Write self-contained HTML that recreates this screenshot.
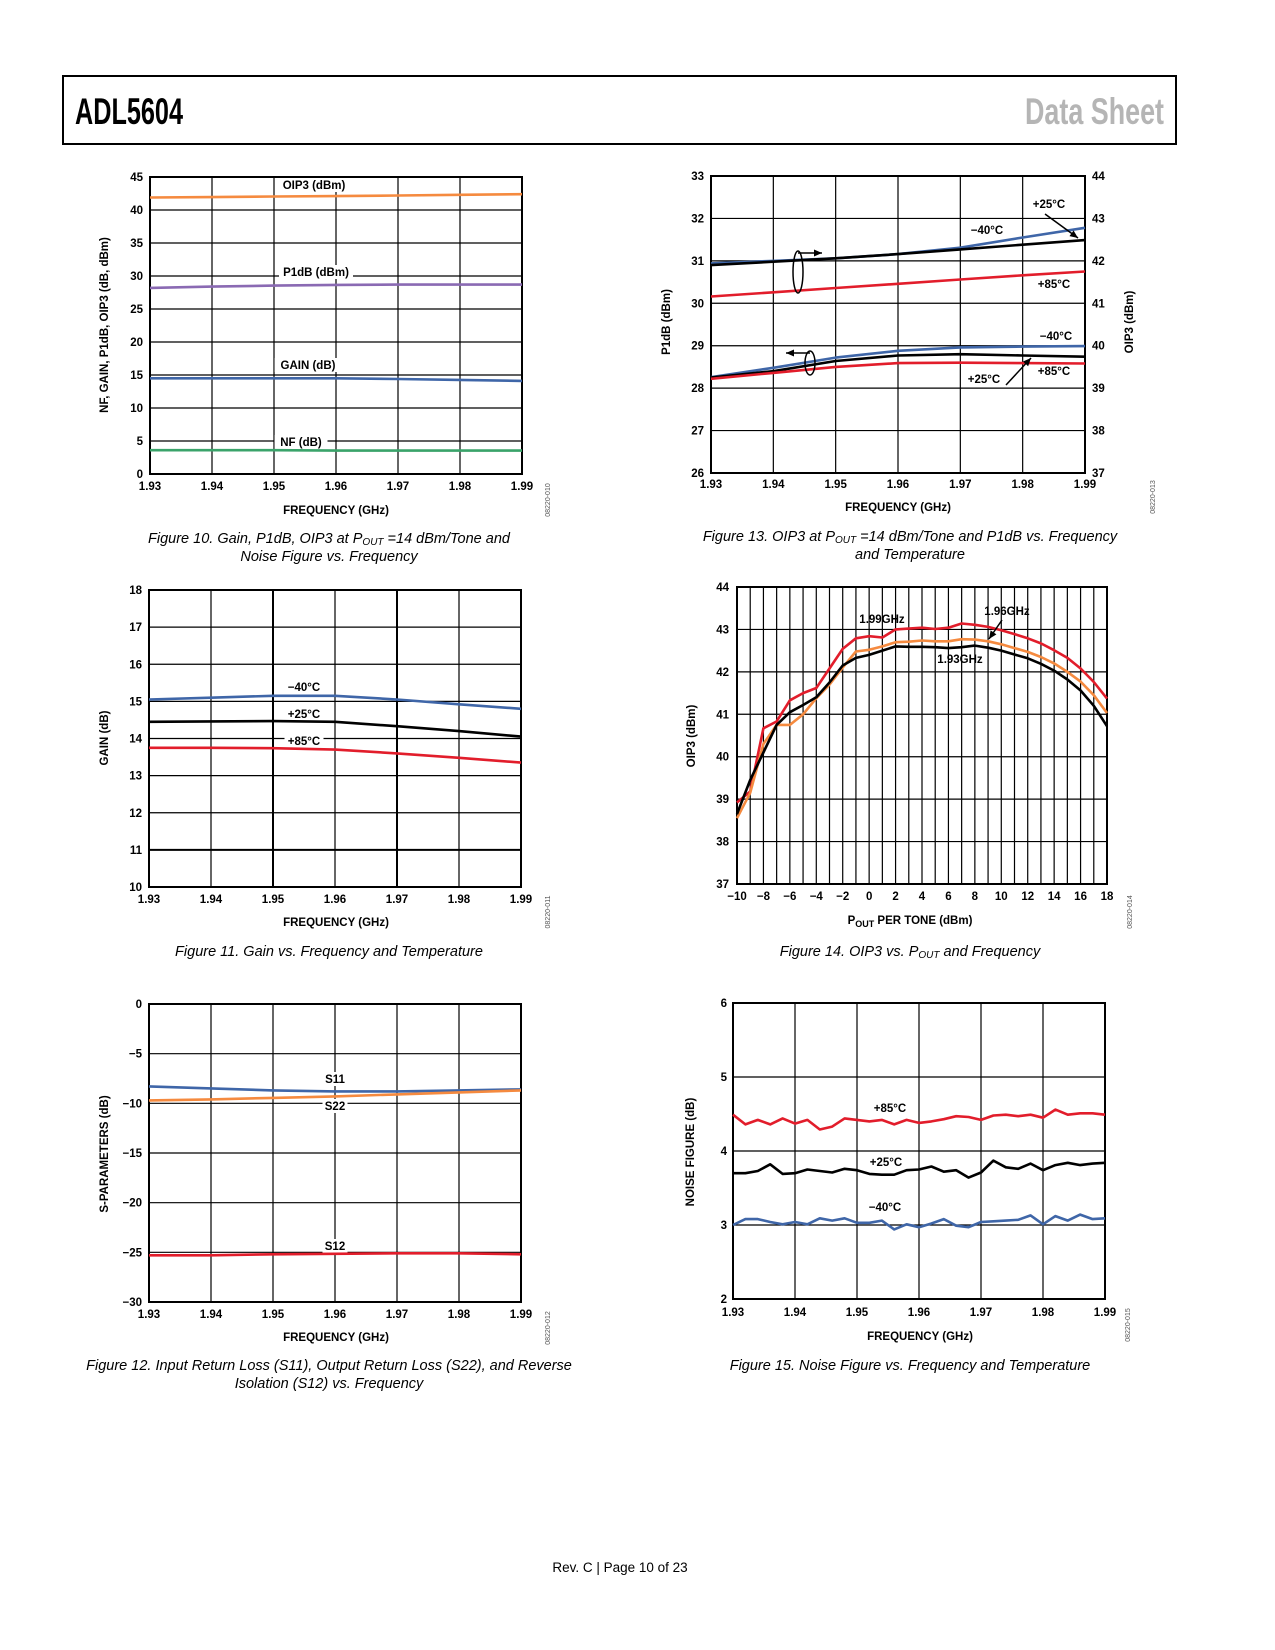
<!DOCTYPE html>
<html><head><meta charset="utf-8"><style>
html,body{margin:0;padding:0;background:#fff;}
body{width:1275px;height:1650px;position:relative;overflow:hidden;font-family:"Liberation Sans",sans-serif;}
svg{position:absolute;left:0;top:0;}
</style></head><body>
<svg id="pg" width="1275" height="1650" viewBox="0 0 1275 1650">
<rect x="63" y="76" width="1113" height="68" fill="none" stroke="#000" stroke-width="2"/>
<text x="75" y="124" textLength="108" lengthAdjust="spacingAndGlyphs" font-family="Liberation Sans, sans-serif" font-weight="bold" font-size="37" fill="#000">ADL5604</text>
<text x="1025" y="124" textLength="139" lengthAdjust="spacingAndGlyphs" font-family="Liberation Sans, sans-serif" font-weight="bold" font-size="37" fill="#b5b5b5">Data Sheet</text>
<text x="620" y="1572" text-anchor="middle" font-family="Liberation Sans, sans-serif" font-size="13.5" fill="#000">Rev. C | Page 10 of 23</text>
</svg>
<script>
// ---------- data ----------
const freq7 = [1.93,1.94,1.95,1.96,1.97,1.98,1.99];
const f10Oip3 = [41.9,41.95,42.05,42.1,42.2,42.3,42.4];
const f10P1db = [28.2,28.4,28.55,28.65,28.7,28.7,28.7];
const f10Gain = [14.5,14.5,14.5,14.5,14.4,14.25,14.1];
const f10Nf = [3.6,3.6,3.6,3.55,3.55,3.55,3.55];
const f11GainM40 = [15.05,15.1,15.15,15.15,15.05,14.92,14.8];
const f11Gain25 = [14.45,14.46,14.47,14.45,14.33,14.2,14.05];
const f11Gain85 = [13.75,13.75,13.74,13.7,13.6,13.48,13.35];
const f12S11 = [-8.3,-8.5,-8.7,-8.8,-8.8,-8.7,-8.6];
const f12S22 = [-9.7,-9.6,-9.45,-9.3,-9.1,-8.9,-8.7];
const f12S12 = [-25.3,-25.3,-25.2,-25.15,-25.1,-25.1,-25.2];
const f13OipM40 = [41.94,42.0,42.06,42.16,42.31,42.55,42.78];
const f13Oip25 = [41.9,41.98,42.06,42.16,42.27,42.38,42.49];
const f13Oip85 = [41.16,41.26,41.36,41.46,41.56,41.66,41.75];
const f13P1M40 = [28.26,28.48,28.72,28.88,28.96,28.98,28.99];
const f13P125 = [28.25,28.4,28.64,28.77,28.8,28.77,28.74];
const f13P185 = [28.22,28.36,28.5,28.59,28.6,28.59,28.58];
const pout = [-10,-9,-8,-7,-6,-5,-4,-3,-2,-1,0,1,2,3,4,5,6,7,8,9,10,11,12,13,14,15,16,17,18];
const f14G199 = [38.92,39.18,40.67,40.83,41.33,41.5,41.62,42.08,42.54,42.79,42.84,42.81,43.0,43.02,43.04,43.01,43.04,43.14,43.11,43.06,42.98,42.89,42.79,42.67,42.51,42.33,42.08,41.76,41.37];
const f14G196 = [38.55,39.15,40.3,40.75,40.75,41.0,41.38,41.7,42.1,42.48,42.52,42.6,42.7,42.71,42.74,42.72,42.72,42.77,42.76,42.72,42.65,42.56,42.47,42.35,42.2,42.0,41.77,41.45,41.03];
const f14G193 = [38.65,39.45,40.1,40.75,41.05,41.22,41.4,41.75,42.15,42.33,42.4,42.5,42.6,42.59,42.59,42.58,42.56,42.58,42.62,42.57,42.5,42.41,42.32,42.19,42.03,41.82,41.56,41.2,40.72];
const freq31 = [1.930,1.932,1.934,1.936,1.938,1.940,1.942,1.944,1.946,1.948,1.950,1.952,1.954,1.956,1.958,1.960,1.962,1.964,1.966,1.968,1.970,1.972,1.974,1.976,1.978,1.980,1.982,1.984,1.986,1.988,1.990];
const f15Nf85 = [4.49,4.36,4.42,4.36,4.44,4.37,4.42,4.29,4.33,4.44,4.42,4.40,4.42,4.36,4.42,4.38,4.40,4.43,4.47,4.46,4.42,4.48,4.49,4.47,4.49,4.45,4.56,4.49,4.51,4.51,4.49];
const f15Nf25 = [3.70,3.70,3.73,3.82,3.69,3.70,3.75,3.73,3.71,3.76,3.74,3.69,3.68,3.68,3.74,3.75,3.79,3.72,3.74,3.64,3.71,3.87,3.78,3.76,3.83,3.74,3.81,3.84,3.81,3.83,3.84];
const f15NfM40 = [3.00,3.08,3.08,3.04,3.01,3.04,3.01,3.09,3.06,3.09,3.03,3.03,3.06,2.94,3.01,2.97,3.02,3.08,2.99,2.97,3.04,3.05,3.06,3.07,3.13,3.01,3.12,3.06,3.14,3.08,3.09];
const freqTicks = ['1.93','1.94','1.95','1.96','1.97','1.98','1.99'];
const poutTicks = ['−10','−8','−6','−4','−2','0','2','4','6','8','10','12','14','16','18'];

// ---------- helpers ----------
const NS='http://www.w3.org/2000/svg';
const pg=document.getElementById('pg');
const BLUE='#3f66a8',RED='#e21d2b',ORANGE='#f58a3f',PURPLE='#8a6ab3',GREEN='#3aa36a',BLACK='#000';
function mk(tag,attrs,parent){const e=document.createElementNS(NS,tag);for(const k in attrs)e.setAttribute(k,attrs[k]);(parent||pg).appendChild(e);return e;}
function txt(x,y,s,size,parent,extra){const t=mk('text',Object.assign({x:x,y:y,'font-size':size,'font-weight':'bold','font-family':'Liberation Sans, sans-serif',fill:'#000'},extra||{}),parent);t.textContent=s;return t;}
function axes(L,R,T,B,xmin,xmax,ymin,ymax){return {x:v=>L+(v-xmin)/(xmax-xmin)*(R-L),y:v=>B-(v-ymin)/(ymax-ymin)*(B-T)};}
function frame(g,L,R,T,B,xvals,yvals,ax,thick){
  xvals.forEach(v=>{const l=mk('line',{x1:ax.x(v),x2:ax.x(v),y1:T,y2:B,stroke:'#000','stroke-width':(thick&&thick.x&&thick.x.includes(v))?2:1.2},g);
    
    });
  yvals.forEach(v=>{const l=mk('line',{x1:L,x2:R,y1:ax.y(v),y2:ax.y(v),stroke:'#000','stroke-width':(thick&&thick.y&&thick.y.includes(v))?2:1.2},g);
    
    });
  const r=mk('rect',{x:L,y:T,width:R-L,height:B-T,fill:'none',stroke:'#000','stroke-width':2},g);
  
  
}
function series(g,xs,ys,ax,color,name,w){
  const d=xs.map((x,i)=>(i?'L':'M')+ax.x(x).toFixed(1)+' '+ax.y(ys[i]).toFixed(1)).join(' ');
  const p=mk('path',{d:d,fill:'none',stroke:color,'stroke-width':w||2.6,'stroke-linejoin':'round'},g);
  
  
}
function label(g,x,y,s,name,bg){
  if(bg){const w=s.length*7+4;const r=mk('rect',{x:x-w/2,y:y-11,width:w,height:14,fill:'#fff'},g);
    
    }
  const t=txt(x,y,s,11.5,g,{'text-anchor':'middle'});
  
  
}
function xTicks(g,labels,vals,ax,y){labels.forEach((s,i)=>{const t=txt(ax.x(vals[i]),y,s,11.5,g,{'text-anchor':'middle'});
  
  });}
function yTicks(g,vals,ax,x,anchor){vals.forEach(v=>{const t=txt(x,ax.y(v)+4,String(v).replace('-','−'),11.5,g,{'text-anchor':anchor||'end'});
  
  });}
function title(g,x,y,s,rot,name){const t=txt(x,y,s,11.5,g,{'text-anchor':'middle'});if(rot)t.setAttribute('transform','rotate(-90 '+x+' '+y+')');
  
  return t;}
function caption(g,x,y,lines,name){lines.forEach((s,i)=>{const t=mk('text',{x:x,y:y+i*18,'text-anchor':'middle','font-size':14.5,'font-style':'italic','font-family':'Liberation Sans, sans-serif',fill:'#000'},g);t.innerHTML=s;
  
  });}
function code(g,x,y,s){const t=mk('text',{x:x,y:y,'text-anchor':'middle','font-size':7,'font-family':'Liberation Sans, sans-serif',fill:'#555',transform:'rotate(-90 '+x+' '+y+')'},g);t.textContent=s;
  
  }
function arrow(g,x1,y1,x2,y2,name){mk('line',{x1:x1,y1:y1,x2:x2,y2:y2,stroke:'#000','stroke-width':1.5},g);
  const a=Math.atan2(y2-y1,x2-x1),s=8;
  const p=mk('polygon',{points:`${x2},${y2} ${x2-s*Math.cos(a)+3.5*Math.sin(a)},${y2-s*Math.sin(a)-3.5*Math.cos(a)} ${x2-s*Math.cos(a)-3.5*Math.sin(a)},${y2-s*Math.sin(a)+3.5*Math.cos(a)}`,fill:'#000'},g);
  
  }
function grp(name){const g=mk('g',{});return g;}
const fVals=freqTicks.map(Number);

// ---------- Figure 10 ----------
(function(){const g=grp('figure-10-chart');const L=150,R=522,T=177,B=474;const ax=axes(L,R,T,B,1.93,1.99,0,45);
 frame(g,L,R,T,B,fVals,[0,5,10,15,20,25,30,35,40,45],ax);
 label(g,314,189,'OIP3 (dBm)','oip3-label',true);label(g,316,276,'P1dB (dBm)','p1db-label',true);
 label(g,308,369,'GAIN (dB)','gain-label',true);label(g,301,446,'NF (dB)','nf-label',true);
 series(g,freq7,f10Oip3,ax,ORANGE,'oip3-line');series(g,freq7,f10P1db,ax,PURPLE,'p1db-line');
 series(g,freq7,f10Gain,ax,BLUE,'gain-line');series(g,freq7,f10Nf,ax,GREEN,'nf-line');
 yTicks(g,[0,5,10,15,20,25,30,35,40,45],ax,143);xTicks(g,freqTicks,fVals,ax,490);
 title(g,336,514,'FREQUENCY (GHz)',false,'x-axis-title');title(g,108,325,'NF, GAIN, P1dB, OIP3 (dB, dBm)',true,'y-axis-title');
 code(g,550,500,'08220-010');
 caption(g,329,543,['Figure 10. Gain, P1dB, OIP3 at P<tspan font-size="10" dy="2">OUT</tspan><tspan dy="-2"> =14 dBm/Tone and</tspan>','Noise Figure vs. Frequency'],'figure-10-caption');})();

// ---------- Figure 11 ----------
(function(){const g=grp('figure-11-chart');const L=149,R=521,T=590,B=887;const ax=axes(L,R,T,B,1.93,1.99,10,18);
 frame(g,L,R,T,B,fVals,[10,11,12,13,14,15,16,17,18],ax,{x:[1.95,1.97],y:[11]});
 label(g,304,691,'−40°C','m40-label',false);label(g,304,718,'+25°C','p25-label',false);label(g,304,745,'+85°C','p85-label',true);
 series(g,freq7,f11GainM40,ax,BLUE,'gain-m40-line');series(g,freq7,f11Gain25,ax,BLACK,'gain-25-line');series(g,freq7,f11Gain85,ax,RED,'gain-85-line');
 yTicks(g,[10,11,12,13,14,15,16,17,18],ax,142);xTicks(g,freqTicks,fVals,ax,903);
 title(g,336,926,'FREQUENCY (GHz)',false,'x-axis-title');title(g,108,738,'GAIN (dB)',true,'y-axis-title');
 code(g,550,912,'08220-011');
 caption(g,329,956,['Figure 11. Gain vs. Frequency and Temperature'],'figure-11-caption');})();

// ---------- Figure 12 ----------
(function(){const g=grp('figure-12-chart');const L=149,R=521,T=1004,B=1302;const ax=axes(L,R,T,B,1.93,1.99,-30,0);
 frame(g,L,R,T,B,fVals,[-30,-25,-20,-15,-10,-5,0],ax);
 label(g,335,1083,'S11','s11-label',true);label(g,335,1110,'S22','s22-label',true);label(g,335,1250,'S12','s12-label',true);
 series(g,freq7,f12S11,ax,BLUE,'s11-line');series(g,freq7,f12S22,ax,ORANGE,'s22-line');series(g,freq7,f12S12,ax,RED,'s12-line');
 yTicks(g,[-30,-25,-20,-15,-10,-5,0],ax,142);xTicks(g,freqTicks,fVals,ax,1318);
 title(g,336,1341,'FREQUENCY (GHz)',false,'x-axis-title');title(g,108,1154,'S-PARAMETERS (dB)',true,'y-axis-title');
 code(g,550,1328,'08220-012');
 caption(g,329,1370,['Figure 12. Input Return Loss (S11), Output Return Loss (S22), and Reverse','Isolation (S12) vs. Frequency'],'figure-12-caption');})();

// ---------- Figure 13 ----------
(function(){const g=grp('figure-13-chart');const L=711,R=1085,T=176,B=473;const ax=axes(L,R,T,B,1.93,1.99,26,33);const ax2=axes(L,R,T,B,1.93,1.99,37,44);
 frame(g,L,R,T,B,fVals,[26,27,28,29,30,31,32,33],ax);
 series(g,freq7,f13OipM40,ax2,BLUE,'oip3-m40-line');series(g,freq7,f13Oip25,ax2,BLACK,'oip3-25-line');series(g,freq7,f13Oip85,ax2,RED,'oip3-85-line');
 series(g,freq7,f13P1M40,ax,BLUE,'p1db-m40-line');series(g,freq7,f13P125,ax,BLACK,'p1db-25-line');series(g,freq7,f13P185,ax,RED,'p1db-85-line');
 label(g,1049,208,'+25°C','oip3-25-label');label(g,987,234,'−40°C','oip3-m40-label');label(g,1054,288,'+85°C','oip3-85-label');
 label(g,1056,340,'−40°C','p1db-m40-label');label(g,1054,375,'+85°C','p1db-85-label');label(g,984,383,'+25°C','p1db-25-label');
 arrow(g,1045,214,1078,238,'arrow-oip3-25');arrow(g,1006,385,1031,358,'arrow-p1db-25');
 mk('ellipse',{cx:798,cy:272,rx:5,ry:21,fill:'none',stroke:'#000','stroke-width':1.5},g);arrow(g,798,253,822,253,'arrow-right-axis');
 mk('ellipse',{cx:810,cy:363,rx:5,ry:12,fill:'none',stroke:'#000','stroke-width':1.5},g);arrow(g,810,353,786,353,'arrow-left-axis');
 yTicks(g,[26,27,28,29,30,31,32,33],ax,704);yTicks(g,[37,38,39,40,41,42,43,44],ax2,1092,'start');xTicks(g,freqTicks,fVals,ax,488);
 title(g,898,511,'FREQUENCY (GHz)',false,'x-axis-title');title(g,670,322,'P1dB (dBm)',true,'left-y-axis-title');title(g,1133,322,'OIP3 (dBm)',true,'right-y-axis-title');
 code(g,1155,497,'08220-013');
 caption(g,910,541,['Figure 13. OIP3 at P<tspan font-size="10" dy="2">OUT</tspan><tspan dy="-2"> =14 dBm/Tone and P1dB vs. Frequency</tspan>','and Temperature'],'figure-13-caption');})();

// ---------- Figure 14 ----------
(function(){const g=grp('figure-14-chart');const L=737,R=1107,T=587,B=884;const ax=axes(L,R,T,B,-10,18,37,44);
 frame(g,L,R,T,B,pout,[37,38,39,40,41,42,43,44],ax);
 series(g,pout,f14G199,ax,RED,'oip3-199ghz-line');series(g,pout,f14G196,ax,ORANGE,'oip3-196ghz-line');series(g,pout,f14G193,ax,BLACK,'oip3-193ghz-line');
 label(g,882,623,'1.99GHz','label-199ghz');label(g,1007,615,'1.96GHz','label-196ghz');label(g,960,663,'1.93GHz','label-193ghz');
 arrow(g,1002,620,989,639,'arrow-196ghz');
 yTicks(g,[37,38,39,40,41,42,43,44],ax,729);
 xTicks(g,poutTicks,poutTicks.map(s=>Number(s.replace('−','-'))),ax,900);
 const t=title(g,910,924,'',false,'x-axis-title');t.innerHTML='P<tspan font-size="9" dy="3">OUT</tspan><tspan dy="-3"> PER TONE (dBm)</tspan>';
 title(g,695,736,'OIP3 (dBm)',true,'y-axis-title');
 code(g,1132,912,'08220-014');
 caption(g,910,956,['Figure 14. OIP3 vs. P<tspan font-size="10" dy="2">OUT</tspan><tspan dy="-2"> and Frequency</tspan>'],'figure-14-caption');})();

// ---------- Figure 15 ----------
(function(){const g=grp('figure-15-chart');const L=733,R=1105,T=1003,B=1299;const ax=axes(L,R,T,B,1.93,1.99,2,6);
 frame(g,L,R,T,B,fVals,[2,3,4,5,6],ax);
 series(g,freq31,f15Nf85,ax,RED,'nf-85-line');series(g,freq31,f15Nf25,ax,BLACK,'nf-25-line');series(g,freq31,f15NfM40,ax,BLUE,'nf-m40-line');
 label(g,890,1112,'+85°C','nf-85-label');label(g,886,1166,'+25°C','nf-25-label');label(g,885,1211,'−40°C','nf-m40-label');
 yTicks(g,[2,3,4,5,6],ax,727);xTicks(g,freqTicks,fVals,ax,1316);
 title(g,920,1340,'FREQUENCY (GHz)',false,'x-axis-title');title(g,694,1152,'NOISE FIGURE (dB)',true,'y-axis-title');
 code(g,1130,1325,'08220-015');
 caption(g,910,1370,['Figure 15. Noise Figure vs. Frequency and Temperature'],'figure-15-caption');})();
</script>
</body></html>
